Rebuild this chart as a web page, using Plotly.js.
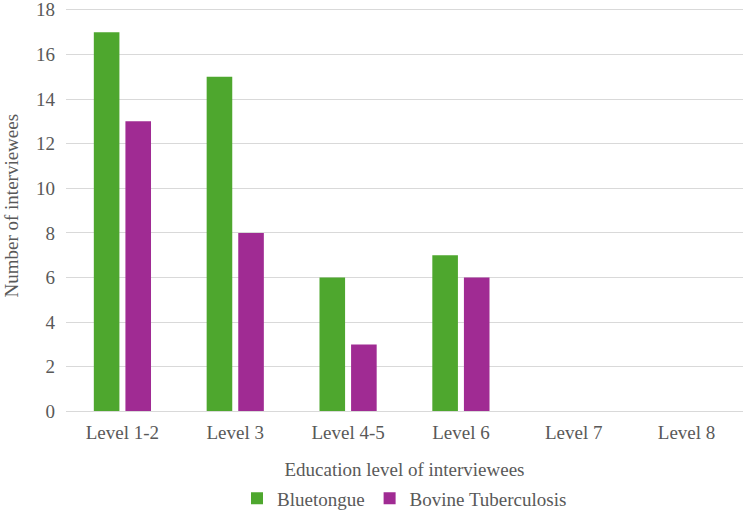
<!DOCTYPE html>
<html>
<head>
<meta charset="utf-8">
<script src="https://cdn.plot.ly/plotly-3.0.1.min.js"></script>
<style>
  html, body { margin: 0; padding: 0; background: #fff; }
  #chart { width: 744px; height: 515px; }
</style>
</head>
<body>
<div id="chart"></div>
<script>
// Education level of interviewees, counts per disease
const levels = ["Level 1-2", "Level 3", "Level 4-5", "Level 6", "Level 7", "Level 8"];
const bluetongue = [17, 15, 6, 7, 0, 0];
const bovineTB = [13, 8, 3, 6, 0, 0];
const yTicks = [0, 2, 4, 6, 8, 10, 12, 14, 16, 18];

const serif = "'Liberation Serif', 'Times New Roman', serif";
const grey = "#595959";
const fs = 19;

const traces = [
  { type: "bar", name: "Bluetongue", x: levels, y: bluetongue, marker: { color: "#4EA72E" }, hoverinfo: "x+y" },
  { type: "bar", name: "Bovine Tuberculosis", x: levels, y: bovineTB, marker: { color: "#A02B93" }, hoverinfo: "x+y" }
];

const layout = {
  width: 744, height: 515,
  margin: { l: 66, r: 1, t: 0, b: 100 },
  paper_bgcolor: "#fff", plot_bgcolor: "#fff",
  font: { family: serif, color: grey, size: fs },
  barmode: "group",
  bargap: 0.44,
  bargroupgap: 0.19,
  showlegend: true,
  legend: {
    orientation: "h", x: 0.5, xanchor: "center",
    yref: "container", y: 0.032, yanchor: "middle",
    font: { family: serif, color: grey, size: fs },
    itemwidth: 30, traceorder: "normal"
  },
  xaxis: {
    type: "category", tickangle: 0,
    showgrid: false, showline: true, linecolor: "#d9d9d9", linewidth: 1,
    ticks: "", ticklabelstandoff: 4, tickfont: { size: fs, color: grey },
    title: { text: "Education level of interviewees", font: { size: fs, color: grey }, standoff: 23 },
    automargin: true
  },
  yaxis: {
    range: [0, 18.44], tickvals: yTicks, ticktext: yTicks.map(String),
    showgrid: true, gridcolor: "#d9d9d9", gridwidth: 1, zeroline: false,
    showline: false, ticks: "", ticklen: 0, ticklabelstandoff: 10,
    ticklabeloverflow: "allow", tickfont: { size: fs, color: grey },
    title: { text: "Number of interviewees", font: { size: fs, color: grey }, standoff: 12 },
    automargin: false
  }
};

Plotly.newPlot("chart", traces, layout, { displayModeBar: false, staticPlot: true });
</script>
</body>
</html>
